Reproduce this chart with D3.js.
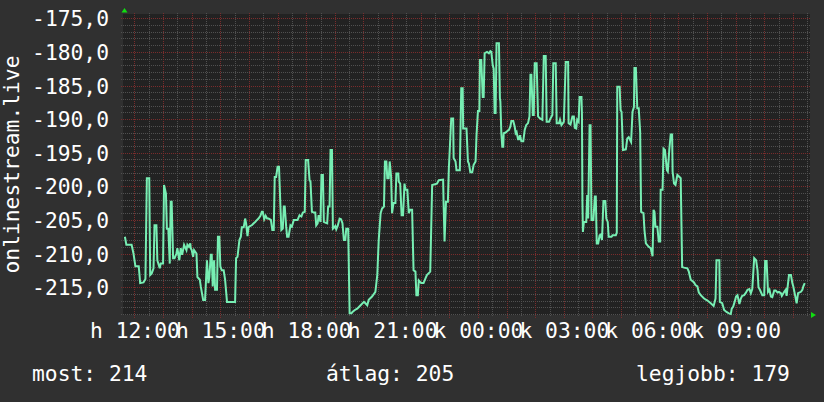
<!DOCTYPE html>
<html>
<head>
<meta charset="utf-8">
<script src="https://cdn.jsdelivr.net/npm/d3@7"></script>
<style>
  html, body { margin: 0; padding: 0; background: #303030; }
  svg { display: block; }
  text { font-family: "DejaVu Sans Mono", monospace; fill: #ffffff; }
</style>
</head>
<body>
<svg id="chart" width="824" height="402"></svg>
<script>
// ---- data (minutes relative to Monday 12:00, value) ----
const minutes = [
  -20,-17,-6,-2,2,9,12,19,23,26,31,33,36,40,42,46,48,53,55,60,62,66,68,71,74,76,78,81,84,88,90,94,97,100,104,109,111,114,117,118,120,123,125,130,132,137,139,144,148,152,155,157,160,162,164,167,169,173,175,178,180,183,187,190,194,211,213,216,220,223,225,229,232,234,237,239,243,246,250,253,257,260,264,267,269,272,275,278,281,286,289,292,294,297,300,303,306,308,311,313,315,318,320,323,327,330,334,
  337,342,346,350,353,357,359,364,367,369,372,376,379,381,384,386,390,392,395,397,400,404,406,409,411,414,416,419,421,423,426,430,433,436,439,442,444,448,451,455,457,462,467,474,481,484,488,491,498,505,509,512,516,519,523,525,528,530,533,535,538,540,543,547,549,553,554,557,560,563,566,568,572,575,578,582,585,589,591,594,596,601,606,610,613,620,624,634,638,647,648,
  650,653,657,659,661,664,668,669,673,675,682,685,688,689,696,699,701,704,708,711,715,717,720,723,724,727,730,732,734,739,743,746,748,751,753,755,757,759,764,766,767,769,771,773,774,778,781,785,788,790,794,797,799,801,804,806,808,811,815,818,821,825,828,830,832,835,837,839,843,846,850,855,858,862,864,869,872,876,878,883,885,890,892,895,898,900,904,909,910,914,918,921,923,926,928,931,933,937,938,939,940,942,947,949,951,954,956,958,962,965,967,969,972,975,977,980,983,987,989,992,994,1000,1002,1009,
  1011,1012,1017,1019,1021,1024,1030,1033,1036,1041,1044,1047,1048,1051,1054,1057,1060,1062,1067,1069,1072,1078,1082,1086,1088,1090,1092,1096,1099,1102,1103,1107,1109,1112,1116,1118,1121,1124,1127,1128,1131,1134,1138,1141,1145,1148,1152,1159,1162,1166,1173,1176,1180,1183,1187,1194,1201,1208,1214,1218,1220,1226,1227,1232,1236,1241,1246,1250,1252,1255,1258,1261,1264,1268,1271,1274,1278,1281,1285,1289,1292,1295,1299,1303,1306,1308,1311,1316,1320,1322,1325,1328,1331,1334,1337,1341,1344,1348,1351,1355,1357,1362,1365,1367,1370,1372,1376,1379,1381,1385,1388,1391,1397,1400,1402,1405
];
const values = [
  -207.5,-208.7,-208.7,-210.0,-211.9,-211.9,-214.4,-214.3,-213.8,-198.8,-198.8,-213.2,-213.0,-212.2,-205.8,-205.8,-211.0,-212.2,-211.5,-211.5,-199.8,-201.1,-206.3,-206.3,-211.5,-202.3,-202.3,-210.7,-210.7,-210.0,-209.2,-211.0,-209.2,-210.2,-208.7,-209.5,-208.7,-209.0,-208.5,-209.2,-209.5,-210.5,-209.5,-210.0,-213.5,-213.9,-214.9,-216.9,-216.9,-211.0,-214.4,-213.5,-210.2,-210.2,-214.9,-211.0,-215.4,-215.4,-207.5,-207.5,-211.9,-212.5,-212.5,-213.9,-217.2,-217.2,-210.7,-210.5,-208.0,-207.5,-206.1,-206.1,-204.8,-205.5,-207.4,-206.1,-205.9,-205.8,-205.5,-205.3,-205.0,-204.8,-204.4,-203.8,-203.8,-204.9,-204.4,-204.8,-204.8,-205.0,-206.5,-206.5,-198.6,-198.6,-197.1,-197.1,-203.0,-206.5,-206.3,-203.0,-203.0,-206.0,-207.5,-207.5,-205.8,-206.0,-205.0,
  -205.0,-205.0,-204.3,-204.5,-203.9,-203.8,-196.1,-196.1,-199.1,-199.3,-203.8,-203.9,-203.9,-205.8,-205.5,-204.3,-205.3,-198.3,-198.3,-205.3,-205.4,-205.5,-203.0,-203.0,-194.6,-194.6,-206.3,-206.1,-205.9,-206.4,-205.9,-204.8,-204.9,-205.5,-208.0,-208.0,-206.3,-206.3,-218.9,-218.9,-218.7,-218.4,-218.2,-217.7,-217.2,-217.4,-217.7,-216.9,-216.4,-215.7,-213.2,-208.0,-204.0,-203.3,-203.0,-196.3,-196.3,-198.8,-198.8,-196.3,-198.6,-204.0,-202.5,-202.5,-198.1,-198.1,-199.3,-199.6,-204.3,-204.3,-199.6,-200.5,-200.5,-204.0,-203.5,-203.5,-212.5,-212.7,-216.2,-216.2,-214.0,-214.4,-214.4,-213.7,-213.2,-212.7,-199.8,-199.6,-199.1,-199.0,-202.5,
  -208.2,-202.3,-202.3,-197.3,-194.4,-189.9,-189.9,-195.8,-196.3,-197.6,-197.6,-185.4,-185.4,-191.4,-191.4,-196.3,-196.6,-197.9,-197.9,-196.8,-196.3,-192.4,-188.8,-188.8,-181.2,-181.2,-186.7,-186.7,-180.2,-180.0,-180.2,-179.9,-180.0,-182.0,-182.5,-189.1,-189.1,-178.7,-178.7,-186.9,-187.4,-192.1,-194.1,-194.1,-192.1,-192.0,-191.8,-191.6,-191.1,-190.3,-190.3,-191.1,-192.1,-191.9,-193.0,-193.0,-192.4,-193.3,-193.3,-191.6,-190.9,-190.6,-189.6,-183.4,-183.4,-189.4,-189.4,-181.7,-181.7,-189.6,-189.9,-190.1,-180.6,-180.6,-190.4,-190.4,-189.9,-189.4,-181.7,-181.7,-190.6,-190.6,-190.1,-190.9,-190.6,-190.4,-181.5,-181.5,-190.6,-190.8,-189.6,-189.6,-191.3,-191.4,-190.1,-190.4,-186.7,-186.7,-189.4,-202.3,-206.8,-205.3,-205.3,-201.3,-204.8,-190.9,-190.9,-205.0,-205.0,-201.5,-201.5,-208.5,-208.5,-207.3,-207.2,-208.0,-202.2,-202.2,-204.8,-205.3,-207.5,-207.5,-207.3,-207.3,
  -206.9,-185.2,-185.2,-188.7,-188.9,-194.6,-194.5,-192.9,-192.7,-193.4,-188.9,-188.2,-182.4,-182.4,-188.4,-188.4,-191.9,-203.8,-204.0,-206.5,-208.5,-209.0,-209.2,-210.4,-203.5,-203.8,-206.0,-206.0,-208.2,-208.2,-200.5,-200.5,-194.4,-194.6,-197.6,-197.8,-194.6,-192.3,-192.3,-197.8,-199.6,-199.8,-198.3,-198.5,-198.8,-212.0,-212.1,-212.2,-212.7,-213.9,-214.3,-214.7,-214.9,-215.8,-216.2,-216.7,-217.0,-217.4,-217.8,-216.7,-211.0,-211.0,-217.2,-217.4,-218.4,-218.7,-218.9,-219.0,-218.2,-217.9,-217.2,-216.4,-216.2,-217.5,-216.7,-216.3,-216.2,-215.9,-215.4,-215.3,-215.9,-215.3,-210.7,-211.0,-212.5,-215.0,-215.4,-216.2,-216.2,-211.1,-211.1,-215.7,-215.4,-216.4,-216.5,-215.5,-215.5,-215.8,-215.7,-215.9,-216.3,-215.7,-215.4,-216.3,-214.4,-213.2,-213.2,-214.4,-214.9,-216.3,-217.4,-215.9,-215.7,-215.4,-214.9,-214.4
];
const tickLabels = ["h 12:00","h 15:00","h 18:00","h 21:00","k 00:00","k 03:00","k 06:00","k 09:00"];
const yTickValues = [-175,-180,-185,-190,-195,-200,-205,-210,-215];
const axisTitle = "onlinestream.live";
const legendNames = ["most","átlag","legjobb"];
const legendValues = [214,205,179];

// ---- layout ----
const svg = d3.select("#chart");
const W = 824, H = 402;
const plot = {left: 123, right: 810, top: 14, bottom: 315};
const t0 = new Date(2024, 0, 1, 12, 0); // Monday (hétfő) 12:00
const tStart = d3.timeMinute.offset(t0, -24);
const tEnd = d3.timeMinute.offset(tStart, 1440);
const times = minutes.map(m => d3.timeMinute.offset(t0, m));
const data = times.map((t, i) => ({t, v: values[i]}));

const x = d3.scaleTime().domain([tStart, tEnd]).range([plot.left, plot.right]);
const y = d3.scaleLinear().domain([-219.15, -174.36]).range([plot.bottom, plot.top]);

svg.append("rect").attr("width", W).attr("height", H).attr("fill", "#303030");
svg.append("rect")
  .attr("x", plot.left).attr("y", plot.top)
  .attr("width", plot.right - plot.left).attr("height", plot.bottom - plot.top)
  .attr("fill", "#222222");

const grid = svg.append("g").attr("shape-rendering", "crispEdges");
const px = v => Math.round(v) + 0.5;
const minorColor = "#505050", majorColor = "#7a2c2c";

// horizontal minor
const yMinor = d3.range(-219, -174, 1).filter(v => v % 5 !== 0);
grid.selectAll(".hmin").data(yMinor).join("line")
  .attr("x1", plot.left - 2).attr("x2", plot.right)
  .attr("y1", d => px(y(d))).attr("y2", d => px(y(d)))
  .attr("stroke", minorColor).attr("stroke-dasharray", "1,1");
// vertical minor
const xMinor = d3.timeMinute.every(30).range(tStart, tEnd).filter(d => d.getMinutes() !== 0);
grid.selectAll(".vmin").data(xMinor).join("line")
  .attr("x1", d => px(x(d))).attr("x2", d => px(x(d)))
  .attr("y1", plot.top - 1).attr("y2", plot.bottom + 2)
  .attr("stroke", minorColor).attr("stroke-dasharray", "1,1");
// horizontal major
const yMajor = d3.range(-215, -174, 5);
grid.selectAll(".hmaj").data(yMajor).join("line")
  .attr("x1", plot.left - 2).attr("x2", plot.right)
  .attr("y1", d => px(y(d))).attr("y2", d => px(y(d)))
  .attr("stroke", majorColor).attr("stroke-dasharray", "1,1");
// vertical major
const xMajor = d3.timeHour.range(tStart, tEnd);
grid.selectAll(".vmaj").data(xMajor).join("line")
  .attr("x1", d => px(x(d))).attr("x2", d => px(x(d)))
  .attr("y1", plot.top - 1).attr("y2", plot.bottom + 3)
  .attr("stroke", majorColor).attr("stroke-dasharray", "1,1");

// data line
const line = d3.line().x(d => x(d.t)).y(d => y(d.v));
svg.append("path").datum(data)
  .attr("d", line)
  .attr("fill", "none")
  .attr("stroke", "#77eeb3")
  .attr("stroke-width", 2)
  .attr("stroke-linejoin", "miter");

// arrows
svg.append("path")
  .attr("d", `M${plot.left - 1.5},${plot.top - 1.5} L${plot.left + 4.5},${plot.top - 1.5} L${plot.left + 1.5},${plot.top - 6} Z`)
  .attr("fill", "#11dd11");
svg.append("path")
  .attr("d", `M${plot.right + 1},${plot.bottom - 3} L${plot.right + 1},${plot.bottom + 3} L${plot.right + 6},${plot.bottom} Z`)
  .attr("fill", "#11dd11");

const fontSize = 21.3;
const fmt = d3.formatLocale({decimal: ",", thousands: " ", grouping: [3], currency: ["", ""], minus: "-"}).format(".1f");

// y axis labels
const yAxis = d3.axisLeft(y).tickValues(yTickValues).tickFormat(fmt).tickSize(0).tickPadding(0);
const gy = svg.append("g").attr("transform", "translate(109,0)").call(yAxis);
gy.select(".domain").remove();
gy.selectAll("text").attr("font-size", fontSize).attr("font-family", "DejaVu Sans Mono").attr("fill", "#fff").attr("dy", "0.36em");

// x axis labels
const xTickValues = d3.timeHour.every(3).range(t0, tEnd);
const xAxis = d3.axisBottom(x).tickValues(xTickValues).tickFormat((d, i) => tickLabels[i]).tickSize(0).tickPadding(8);
const gx = svg.append("g").attr("transform", `translate(0,${plot.bottom})`).call(xAxis);
gx.select(".domain").remove();
gx.selectAll("text").attr("font-size", fontSize).attr("font-family", "DejaVu Sans Mono").attr("fill", "#fff");

// y title
svg.append("text")
  .attr("transform", `translate(18.5,${(plot.top + plot.bottom) / 2}) rotate(-90)`)
  .attr("text-anchor", "middle")
  .attr("font-size", fontSize)
  .text(axisTitle);

// legend
const legendX = [32, 326, 636];
svg.selectAll(".legend").data(legendNames).join("text")
  .attr("x", (d, i) => legendX[i])
  .attr("y", 381)
  .attr("font-size", fontSize)
  .text((d, i) => `${d}: ${legendValues[i]}`);
</script>
</body>
</html>
